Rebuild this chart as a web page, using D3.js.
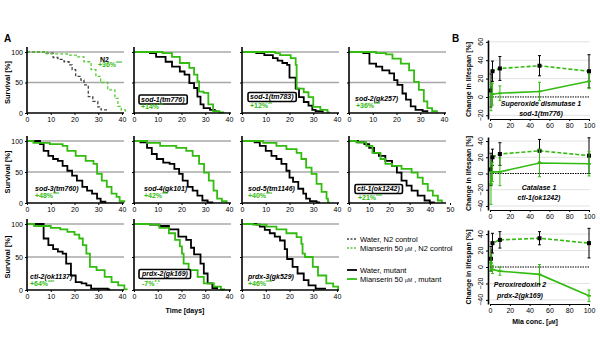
<!DOCTYPE html>
<html>
<head>
<meta charset="utf-8">
<script src="https://cdn.jsdelivr.net/npm/d3@7"></script>
<style>
body { margin: 0; background: #fff; }
text { font-family: "Liberation Sans", Arial, sans-serif; }
</style>
</head>
<body>
<svg id="chart" width="600" height="360"></svg>
<script>
// ---- survival panels (A) ----
var panelNames  = ["N2", "sod-1(tm776)", "sod-1(tm783)", "sod-2(gk257)", "sod-3(tm760)", "sod-4(gk101)",
                   "sod-5(tm1146)", "ctl-1(ok1242)", "ctl-2(ok1137)", "prdx-2(gk169)", "prdx-3(gk529)"];
var panelChange = ["+36%", "+14%", "+12%", "+36%", "+48%", "+42%", "+40%", "+21%", "+64%", "-7%", "+46%"];
var panelStars  = ["***", "**", "**", "***", "***", "***", "***", "***", "***", "*.*", "***"];
var panelBoxed  = [false, true, true, false, false, false, false, true, false, true, false];
var panelMaxDay = [40, 40, 40, 40, 40, 40, 40, 50, 40, 40, 40];
var dayTicks40 = [0, 10, 20, 30, 40], dayTicks50 = [0, 10, 20, 30, 40, 50];
var survTicks = [0, 50, 100];

// [day, % alive]
var n2Water = [[0,100],[8,98],[11,91],[13,88],[15.6,84],[17.7,79],[19,71],[20.5,60],[22.7,54],[24,46],[25.8,27],[27.7,19],[29.8,10],[31.2,5],[34,5]];
var n2Mia   = [[0,100],[8.5,97],[17,95],[21.3,92],[24,84],[27,71],[29,60],[31,50],[34,38],[37,24],[38.3,11],[39.7,5],[41.4,3],[42.5,3]];
var tm776Water = [[0,100],[6.7,98],[9.3,92],[13.3,84],[16,76],[19.3,68],[21.3,63],[23.3,49],[25.3,41],[26.7,27],[28,14],[29.3,8],[32,5],[34,3],[35,3]];
var tm776Mia   = [[0,100],[12,98],[16,92],[19.3,82],[23.3,74],[25.3,63],[26.7,52],[27.4,35],[29.3,33],[31.3,14],[33.3,3],[36,1],[38,1]];
var tm783Water = [[0,100],[6,98],[9.4,95],[13,90],[15,86],[17,82],[19,79],[20,58],[22.6,40],[24,26],[26,18],[28,12],[29.6,5],[31,3],[34,1]];
var tm783Mia   = [[0,100],[14,98],[16,95],[20.5,90],[22.6,79],[23,40],[26,34],[28,26],[30,10],[33,5],[36,1],[37,1]];
var gk257Water = [[0,100],[6,98],[8.6,81],[11.4,76],[14,70],[17,65],[19,54],[20.4,46],[22.5,32],[24,22],[26,11],[28,5],[31,3],[33,1]];
var gk257Mia   = [[0,100],[11.4,98],[15.6,96],[18.3,89],[21.8,81],[25.3,70],[27.4,51],[29.4,38],[31.5,19],[33,8],[35,3],[37,1]];
var tm760Water = [[0,100],[5.5,95],[7,84],[9,76],[11,71],[13,68],[15,60],[17,52],[19,44],[21,36],[23.3,26],[25.3,20],[27.4,15],[29.5,7],[31,2],[33,0]];
var tm760Mia   = [[0,100],[2.7,97],[9.6,95],[15,92],[17,84],[20.5,76],[24.7,68],[28,63],[29.5,47],[31.5,36],[33.6,26],[35.6,15],[37.7,10],[39,3],[41,1]];
var gk101Water = [[0,100],[2.7,98],[5.5,89],[7.5,79],[9.6,71],[12.3,65],[15,63],[17,55],[19,47],[20.5,36],[22.6,26],[24.7,20],[26.7,12],[28.8,4],[31,1],[33,0]];
var gk101Mia   = [[0,100],[5.5,97],[11,92],[17.8,89],[22,84],[24.7,76],[27.4,63],[29.5,49],[31.5,36],[33.5,20],[35,7],[37,3],[39,0]];
var tm1146Water = [[0,100],[5.3,98],[7.5,92],[10,84],[12.4,76],[14.5,71],[16.6,63],[18.7,52],[20,41],[21.5,34],[23.7,23],[25.8,15],[27,7],[28.6,3],[31.4,1],[32.5,0]];
var tm1146Mia   = [[0,100],[8.9,97],[14.5,92],[18.7,87],[23,81],[25,71],[27,57],[29.3,47],[31.4,31],[33.5,18],[35.6,7],[36.2,2],[36.8,2]];
var ok1242Water = [[0,100],[4.4,98],[7.6,95],[10,89],[12.4,81],[14.8,76],[18,68],[21.3,60],[23.7,49],[26,36],[28.5,28],[31,20],[34,12],[37.4,4],[40,1],[42,0]];
var ok1242Mia   = [[0,100],[3.6,98],[8.5,92],[11.6,81],[15.6,71],[18,63],[21.3,60],[26,55],[31,49],[34,41],[36.5,31],[39,20],[41.5,12],[44,4],[46,1]];
var ok1137Water = [[0,100],[7,78],[9,68],[11,62],[13,58],[15,55],[16.5,40],[18.5,22],[20.5,12],[23,10],[25,7],[27,2],[34,1],[35,1]];
var ok1137Mia   = [[0,100],[3,97],[10,94],[14,92],[17,88],[20,84],[22,78],[23.5,68],[25,55],[26.5,35],[29.3,30],[32.7,20],[35.6,12],[38.4,7],[41,1],[42,0]];
var gk169Water = [[0,100],[6.7,99],[10.7,97],[14.7,92],[18.7,81],[22,76],[24,64],[25.3,54],[28,40],[29.4,25],[31,10],[33,3],[35,1]];
var gk169Mia   = [[0,100],[6.7,99],[10.7,94],[14.7,86],[17.3,76],[19.3,66],[20.2,55],[20.9,40],[23,30],[26.8,20],[29.4,10],[33.6,5],[36.6,1],[38,0]];
var gk529Water = [[0,100],[6,99],[7.5,96],[9.6,91],[11.7,86],[13.8,81],[16,75],[18,62],[19,47],[21.3,35],[23.4,25],[26,15],[28,7],[31,2],[35,1]];
var gk529Mia   = [[0,100],[4.6,99],[10.3,96],[14.5,92],[18.7,86],[23,80],[25,70],[25.5,55],[26.5,50],[29.8,35],[32,22],[35.5,10],[38.4,5],[40.5,0]];

var waterSeries = [n2Water, tm776Water, tm783Water, gk257Water, tm760Water, gk101Water, tm1146Water, ok1242Water, ok1137Water, gk169Water, gk529Water];
var miaSeries   = [n2Mia, tm776Mia, tm783Mia, gk257Mia, tm760Mia, gk101Mia, tm1146Mia, ok1242Mia, ok1137Mia, gk169Mia, gk529Mia];

// ---- dose panels (B) ----
var miaConc = [1, 2.5, 10, 50, 100];
var concTicks = [0, 20, 40, 60, 80, 100];
var doseTitles = [["Superoxide dismutase 1", "sod-1(tm776)"], ["Catalase 1", "ctl-1(ok1242)"], ["Peroxiredoxin 2", "prdx-2(gk169)"]];
var sod1N2 = [7, 28, 31, 34, 28],    sod1N2Err = [18, 11, 13, 11, 18];
var sod1Mut = [0, 3, 4, 6, 17],      sod1MutErr = [15, 12, 8, 10, 8];
var ctl1N2 = [5, 20, 24, 28, 22],    ctl1N2Err = [20, 10, 14, 14, 22];
var ctl1Mut = [-13, 2, 2, 13, 12],   ctl1MutErr = [25, 12, 17, 17, 15];
var prdx2N2 = [10, 29, 33, 35, 29],  prdx2N2Err = [15, 12, 10, 8, 18];
var prdx2Mut = [5, -3, -5, -9, -35], prdx2MutErr = [10, 5, 5, 12, 7];
var doseN2 = [sod1N2, ctl1N2, prdx2N2], doseN2Err = [sod1N2Err, ctl1N2Err, prdx2N2Err];
var doseMut = [sod1Mut, ctl1Mut, prdx2Mut], doseMutErr = [sod1MutErr, ctl1MutErr, prdx2MutErr];
var doseDomains = [[-24, 62], [-45, 45], [-45, 45]];
var doseTicks = [[-20, 0, 20, 40, 60], [-40, -20, 0, 20, 40], [-40, -20, 0, 20, 40]];

var green = "#33bb11", greenLight = "#55cc33";
var svg = d3.select("#chart");
svg.append("rect").attr("width", 600).attr("height", 360).attr("fill", "#fff");

// layout
var colX = [27, 134, 242, 349];
var rowY = [[52, 113], [141, 203], [224, 290]];
var labelPos = [[73, 9.5, 71, 15], [7, 49.5, 7, 57], [8, 47, 8, 56], [6, 48.5, 7, 56],
                [8, 49.5, 8, 57], [10, 49.5, 10, 57], [6, 49.5, 6, 57], [8, 50, 9, 59],
                [3, 55, 3, 62], [8, 52, 8, 62], [6, 54.5, 6, 62]];

svg.append("text").attr("x", 4).attr("y", 42).style("font-size", "10px").style("font-weight", "bold").text("A");
svg.append("text").attr("x", 452).attr("y", 42).style("font-size", "10px").style("font-weight", "bold").text("B");

rowY.forEach(function(r) {
  svg.append("text")
    .attr("transform", "translate(10," + ((r[0] + r[1]) / 2) + ") rotate(-90)")
    .attr("text-anchor", "middle")
    .style("font-size", "7.5px").style("font-weight", "bold")
    .text("Survival [%]");
});

panelNames.forEach(function(name, i) {
  var row = Math.floor(i / 4), col = i % 4;
  var x0 = colX[col], yTop = rowY[row][0], yBot = rowY[row][1];
  var w = panelMaxDay[i] == 50 ? 101 : 95;
  var x = d3.scaleLinear().domain([0, panelMaxDay[i]]).range([x0, x0 + w]);
  var y = d3.scaleLinear().domain([0, 100]).range([yBot, yTop]);
  var g = svg.append("g");

  // grey reference lines
  [50, 100].forEach(function(v) {
    g.append("line").attr("x1", x0).attr("x2", x0 + 97).attr("y1", y(v)).attr("y2", y(v))
      .attr("stroke", "#a8a8a8").attr("stroke-width", 1.3);
  });

  var line = d3.line().x(function(d) { return x(d[0]); }).y(function(d) { return y(d[1]); }).curve(d3.curveStepAfter);
  var dashed = (i == 0);
  g.append("path").datum(waterSeries[i]).attr("d", line).attr("fill", "none")
    .attr("stroke", dashed ? "#444" : "#000").attr("stroke-width", dashed ? 1.3 : 1.8)
    .attr("stroke-dasharray", dashed ? "3,2" : null);
  g.append("path").datum(miaSeries[i]).attr("d", line).attr("fill", "none")
    .attr("stroke", dashed ? greenLight : green).attr("stroke-width", dashed ? 1.3 : 1.8)
    .attr("stroke-dasharray", dashed ? "3,2" : null);

  // axes
  var xa = g.append("g").attr("transform", "translate(0," + yBot + ")")
    .call(d3.axisBottom(x).tickValues(panelMaxDay[i] == 50 ? dayTicks50 : dayTicks40).tickSize(2).tickSizeOuter(0).tickPadding(2));
  xa.select(".domain").attr("stroke-width", 1.6).attr("d", "M" + x0 + ",0H" + (x0 + 97));
  xa.selectAll("text").style("font-size", "7px").style("font-family", "Liberation Sans, Arial, sans-serif");

  var ya = g.append("g").attr("transform", "translate(" + x0 + ",0)")
    .call(d3.axisLeft(y).tickValues(survTicks).tickSize(2).tickPadding(2).tickFormat(col == 0 ? d3.format("d") : function() { return ""; }));
  ya.select(".domain").attr("stroke-width", 1.6).attr("d", "M0," + yBot + "V" + (yTop - 5));
  ya.selectAll("text").style("font-size", "7px").style("font-family", "Liberation Sans, Arial, sans-serif");

  // labels
  var p = labelPos[i];
  var lab = g.append("text").attr("x", x0 + p[0]).attr("y", yTop + p[1])
    .style("font-size", "7px").style("font-weight", "bold")
    .style("font-style", i == 0 ? "normal" : "italic").text(name);
  if (panelBoxed[i]) {
    var bb = lab.node().getBBox();
    g.insert("rect", function() { return lab.node(); })
      .attr("x", bb.x - 2).attr("y", bb.y - 0.5).attr("width", bb.width + 4).attr("height", bb.height + 1)
      .attr("rx", 1.5).attr("fill", "#fff").attr("stroke", "#000").attr("stroke-width", 1.6);
  }
  var pct = g.append("text").attr("x", x0 + p[2]).attr("y", yTop + p[3])
    .style("font-size", "7px").style("font-weight", "bold").attr("fill", green);
  pct.append("tspan").text(panelChange[i]);
  pct.append("tspan").attr("dy", -2.5).style("font-size", "5px").text(panelStars[i]);
});

svg.append("text").attr("x", 185).attr("y", 313).attr("text-anchor", "middle")
  .style("font-size", "7px").style("font-weight", "bold").text("Time [days]");

// legend
var legendText = [["Water, N2 control", ""], ["Mianserin 50 ", " , N2 control"], ["Water, mutant", ""], ["Mianserin 50 ", " , mutant"]];
var legendY = [239, 248, 270, 279];
legendText.forEach(function(t, k) {
  var isMia = k % 2 == 1, isCtrl = k < 2;
  svg.append("line").attr("x1", 347).attr("x2", 357).attr("y1", legendY[k]).attr("y2", legendY[k])
    .attr("stroke", isMia ? (isCtrl ? greenLight : green) : (isCtrl ? "#444" : "#000"))
    .attr("stroke-width", isCtrl ? 1.3 : 1.8).attr("stroke-dasharray", isCtrl ? "2,1.5" : null);
  var tx = svg.append("text").attr("x", 360).attr("y", legendY[k] + 2.5).style("font-size", "7.5px");
  tx.append("tspan").text(t[0]);
  if (isMia) {
    tx.append("tspan").style("font-size", "5px").text("µM");
    tx.append("tspan").text(t[1]);
  }
});

// ---- B panels ----
var bRanges = [[119, 40], [210, 137], [304, 230]];
var bx = d3.scaleLinear().domain([0, 100]).range([490, 589]);

doseTitles.forEach(function(title, j) {
  var y = d3.scaleLinear().domain(doseDomains[j]).range(bRanges[j]);
  var g = svg.append("g");

  doseTicks[j].forEach(function(t) {
    if (t != 0) {
      g.append("line").attr("x1", 490).attr("x2", 590).attr("y1", y(t)).attr("y2", y(t))
        .attr("stroke", "#e2e2e2").attr("stroke-width", 1);
    }
  });
  g.append("line").attr("x1", 490).attr("x2", 590).attr("y1", y(0)).attr("y2", y(0))
    .attr("stroke", "#000").attr("stroke-width", 1).attr("stroke-dasharray", "1.5,1");

  var xa = g.append("g").attr("transform", "translate(0," + bRanges[j][0] + ")")
    .call(d3.axisBottom(bx).tickValues(concTicks).tickSize(2).tickSizeOuter(0).tickPadding(2));
  xa.select(".domain").attr("stroke-width", 1.2);
  xa.selectAll("text").style("font-size", "7px").style("font-family", "Liberation Sans, Arial, sans-serif");

  var ya = g.append("g").attr("transform", "translate(488,0)")
    .call(d3.axisLeft(y).tickValues(doseTicks[j]).tickSize(2).tickSizeOuter(0).tickFormat(function() { return ""; }));
  ya.select(".domain").attr("stroke-width", 1.6);
  doseTicks[j].forEach(function(t) {
    g.append("text").attr("transform", "translate(483," + y(t) + ") rotate(-90)")
      .attr("text-anchor", "middle").style("font-size", "7px").text(t < 0 ? "\u2212" + (-t) : t);
  });

  g.append("text")
    .attr("transform", "translate(471," + ((bRanges[j][0] + bRanges[j][1]) / 2) + ") rotate(-90)")
    .attr("text-anchor", "middle").style("font-size", "7px").style("font-weight", "bold")
    .text("Change in lifespan [%]");

  var lineFn = d3.line().x(function(d, k) { return bx(miaConc[k]); }).y(function(d) { return y(d); });

  // N2 control: green dashed line with black points
  g.append("path").datum(doseN2[j]).attr("d", lineFn).attr("fill", "none")
    .attr("stroke", green).attr("stroke-width", 1.6).attr("stroke-dasharray", "4,2");
  doseN2[j].forEach(function(v, k) {
    var cx = bx(miaConc[k]), e = doseN2Err[j][k];
    g.append("line").attr("x1", cx).attr("x2", cx).attr("y1", y(v - e)).attr("y2", y(v + e)).attr("stroke", "#000").attr("stroke-width", 1);
    [v - e, v + e].forEach(function(b) {
      g.append("line").attr("x1", cx - 1.5).attr("x2", cx + 1.5).attr("y1", y(b)).attr("y2", y(b)).attr("stroke", "#000").attr("stroke-width", 1);
    });
    g.append("rect").attr("x", cx - 2).attr("y", y(v) - 2).attr("width", 4).attr("height", 4).attr("fill", "#000");
  });

  // mutant: green solid line
  g.append("path").datum(doseMut[j]).attr("d", lineFn).attr("fill", "none")
    .attr("stroke", green).attr("stroke-width", 1.6);
  doseMut[j].forEach(function(v, k) {
    var cx = bx(miaConc[k]), e = doseMutErr[j][k];
    g.append("line").attr("x1", cx).attr("x2", cx).attr("y1", y(v - e)).attr("y2", y(v + e)).attr("stroke", green).attr("stroke-width", 1);
    [v - e, v + e].forEach(function(b) {
      g.append("line").attr("x1", cx - 1.5).attr("x2", cx + 1.5).attr("y1", y(b)).attr("y2", y(b)).attr("stroke", green).attr("stroke-width", 1);
    });
    g.append("line").attr("x1", cx - 2).attr("x2", cx + 2).attr("y1", y(v)).attr("y2", y(v)).attr("stroke", green).attr("stroke-width", 1.6);
  });
});

// B panel titles
var titleY = [[106, 116], [190, 200], [287, 298]];
var titleX = [541, 539, 520];
doseTitles.forEach(function(t, j) {
  t.forEach(function(s, k) {
    svg.append("text").attr("x", titleX[j]).attr("y", titleY[j][k]).attr("text-anchor", "middle")
      .style("font-size", "7px").style("font-weight", "bold").style("font-style", "italic").text(s);
  });
});

var conc = svg.append("text").attr("x", 535).attr("y", 324).attr("text-anchor", "middle")
  .style("font-size", "7px").style("font-weight", "bold");
conc.append("tspan").text("Mia conc. [");
conc.append("tspan").style("font-size", "5px").text("µM");
conc.append("tspan").text("]");
</script>
</body>
</html>
